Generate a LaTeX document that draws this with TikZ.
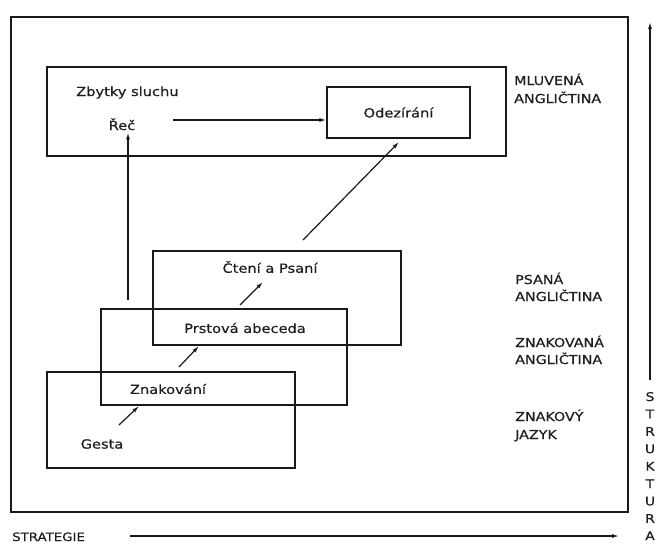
\documentclass[tikz,border=0pt]{standalone}
\usepackage{fontspec}
\newfontfamily\djs[FakeStretch=1.16,FakeBold=0.6]{DejaVu Sans}
\usetikzlibrary{arrows.meta}
\begin{document}
\begin{tikzpicture}[x=1pt,y=-1pt,
  box/.style={draw=black!90,line width=1.3pt},
  txt/.style={font={\djs\fontsize{12.6}{15}\selectfont},inner sep=2pt,text=black!88},
  lab/.style={font={\djs\fontsize{12.3}{14}\selectfont},inner sep=0pt,anchor=base west,text=black!88},
  arr/.style={line width=1.2pt,draw=black!90,-{Latex[length=7pt,width=4pt]}},
]
\useasboundingbox (0,0) rectangle (656,543);
% outer frame
\draw[box] (11,17) rectangle (628,512);
% boxes
\draw[box] (47,67) rectangle (506,156);
\node[box,minimum width=143pt,minimum height=51pt,txt] (odez) at (398.5,112.5) {Odezírání};
\draw[box] (101,309) rectangle (347,405);
\draw[box] (47,372) rectangle (295,468);
\draw[box] (153,251) rectangle (401,345);
% texts
\node[txt,anchor=base west] (zbytky) at (74,96) {Zbytky sluchu};
\node[txt,anchor=base] (rec) at (122,130) {Řeč};
\node[txt] (cteni) at (270,267) {Čtení a Psaní};
\node[txt] (prst) at (245,328) {Prstová abeceda};
\node[txt] (znak) at (168,389) {Znakování};
\node[txt] (gesta) at (102,444) {Gesta};
% connectors
\coordinate (recR) at (173,120);
\draw[arr] (recR) -- (odez.west |- recR);
\coordinate (vstart) at (128,300);
\draw[arr] (vstart) -- (rec.south -| vstart);
\coordinate (dstart) at (303,240);
\coordinate (dend) at (399,142);
\draw[arr] (dstart) -- (dend);
\coordinate (a1s) at (240,305); \coordinate (a1e) at (263,282);
\draw[arr] (a1s) -- (a1e);
\coordinate (a2s) at (179,367); \coordinate (a2e) at (199,346);
\draw[arr] (a2s) -- (a2e);
\coordinate (a3s) at (119,425); \coordinate (a3e) at (139,406);
\draw[arr] (a3s) -- (a3e);
% right labels
\node[lab] (m1) at (514,85) {MLUVENÁ};
\node[lab] (m2) at (514,103) {ANGLIČTINA};
\node[lab] (p1) at (515,284) {PSANÁ};
\node[lab] (p2) at (515,301) {ANGLIČTINA};
\node[lab] (z1) at (515,347) {ZNAKOVANÁ};
\node[lab] (z2) at (515,364) {ANGLIČTINA};
\node[lab] (j1) at (515,421) {ZNAKOVÝ};
\node[lab] (j2) at (515,439) {JAZYK};
% structure axis
\coordinate (sbot) at (650,380);
\coordinate (stop) at (650,22);
\draw[arr] (sbot) -- (stop);
\foreach \l [count=\i] in {S,T,R,U,K,T,U,R,A}
  \node[font={\djs\fontsize{12}{13}\selectfont},inner sep=0pt,anchor=base,text=black!88] (s\i) at (650,{401+17.4*(\i-1)}) {\l};
% strategy axis
\node[lab,font={\djs\fontsize{11.5}{14}\selectfont}] (strat) at (12,541) {STRATEGIE};
\coordinate (tstart) at (130,536);
\coordinate (tend) at (619,536);
\draw[arr] (tstart) -- (tend);
\end{tikzpicture}
\end{document}
